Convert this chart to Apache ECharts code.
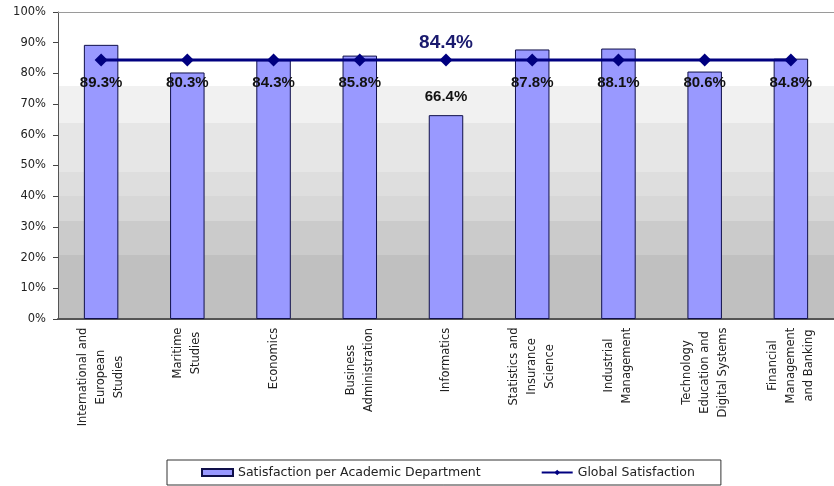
<!DOCTYPE html>
<html>
<head>
<meta charset="utf-8">
<script src="https://cdn.jsdelivr.net/npm/echarts@6/dist/echarts.min.js"></script>
<style>
  html, body { margin: 0; padding: 0; background: #ffffff; }
  #chart { width: 834px; height: 486px; }
</style>
</head>
<body>
<div id="chart"></div>
<script>
// Academic departments (line breaks as shown under the axis)
const departments = [
  'International and\nEuropean\nStudies',
  'Maritime\nStudies',
  'Economics',
  'Business\nAdministration',
  'Informatics',
  'Statistics and\nInsurance\nScience',
  'Industrial\nManagement',
  'Technology\nEducation and\nDigital Systems',
  'Financial\nManagement\nand Banking'
];

// Satisfaction per academic department (%)
const deptSatisfaction = [89.3, 80.3, 84.3, 85.8, 66.4, 87.8, 88.1, 80.6, 84.8];

// Global satisfaction (%) repeated at every department
const globalSatisfaction = [84.4, 84.4, 84.4, 84.4, 84.4, 84.4, 84.4, 84.4, 84.4];

// Index of the point that carries the global value label
const globalLabelIndex = 4;

const seriesNames = ['Satisfaction per Academic Department', 'Global Satisfaction'];

const FONT = 'DejaVu Sans';
const AXIS_FONT_SIZE = 11.5;

// Measure each category's longest line so its lines can be centred in a box
const measureCtx = document.createElement('canvas').getContext('2d');
measureCtx.font = AXIS_FONT_SIZE + 'px "' + FONT + '"';
const rich = {};
departments.forEach(function (name, i) {
  const w = Math.max.apply(null, name.split('\n').map(function (l) {
    return measureCtx.measureText(l).width;
  }));
  rich['c' + i] = {
    width: Math.ceil(w) + 1,
    align: 'center',
    lineHeight: 18,
    fontFamily: FONT,
    fontSize: AXIS_FONT_SIZE,
    color: '#222'
  };
});

const chart = echarts.init(document.getElementById('chart'), null, { renderer: 'canvas' });

// Stepped grey background of the plot area
const plotBackground = new echarts.graphic.LinearGradient(0, 0, 0, 1, [
  { offset: 0.00, color: '#ffffff' },
  { offset: 0.24, color: '#ffffff' },
  { offset: 0.24, color: '#f1f1f1' },
  { offset: 0.36, color: '#f1f1f1' },
  { offset: 0.36, color: '#e6e6e6' },
  { offset: 0.52, color: '#e6e6e6' },
  { offset: 0.52, color: '#dedede' },
  { offset: 0.60, color: '#dedede' },
  { offset: 0.60, color: '#d7d7d7' },
  { offset: 0.68, color: '#d7d7d7' },
  { offset: 0.68, color: '#cbcbcb' },
  { offset: 0.79, color: '#cbcbcb' },
  { offset: 0.79, color: '#c0c0c0' },
  { offset: 1.00, color: '#c0c0c0' }
]);

const barLabel = {
  show: true,
  formatter: function (p) { return p.value.toFixed(1) + '%'; },
  fontFamily: 'Liberation Sans',
  fontWeight: 'bold',
  fontSize: 15,
  color: '#111',
  align: 'center',
  verticalAlign: 'middle'
};

function buildOption(barData) {
  return {
    animation: false,
    backgroundColor: '#ffffff',
    grid: {
      left: 58, right: -12, top: 12, bottom: 167,
      show: true,
      backgroundColor: plotBackground,
      borderWidth: 0
    },
    legend: {
      bottom: 1,
      left: 167,
      data: [{ name: seriesNames[0], icon: 'rect' }, { name: seriesNames[1] }],
      itemWidth: 31,
      itemHeight: 7,
      itemGap: 60,
      padding: [6, 26, 6, 34],
      borderColor: '#333',
      borderWidth: 1,
      borderRadius: 0,
      backgroundColor: '#ffffff',
      textStyle: { fontFamily: FONT, fontSize: 12.5, color: '#222' }
    },
    xAxis: [{
      type: 'category',
      data: departments,
      position: 'bottom',
      axisLine: { lineStyle: { color: '#555', width: 2 } },
      axisTick: { inside: true, length: 4, lineStyle: { color: '#333' } },
      axisLabel: {
        rotate: 90,
        margin: 8,
        interval: 0,
        formatter: function (value, i) {
          return value.split('\n').map(function (l) { return '{c' + i + '|' + l + '}'; }).join('\n');
        },
        rich: rich
      },
      splitLine: { show: false }
    }, {
      type: 'category',
      data: departments,
      position: 'top',
      axisLine: { lineStyle: { color: '#9a9a9a', width: 1 } },
      axisTick: { show: false },
      axisLabel: { show: false },
      splitLine: { show: false }
    }],
    yAxis: {
      type: 'value',
      min: 0,
      max: 100,
      interval: 10,
      axisLine: { show: true, lineStyle: { color: '#555', width: 1 } },
      axisTick: { show: true, length: 5, lineStyle: { color: '#444' } },
      axisLabel: {
        formatter: '{value}%',
        margin: 12,
        fontFamily: FONT,
        fontSize: AXIS_FONT_SIZE,
        color: '#222'
      },
      splitLine: { show: false }
    },
    series: [{
      name: seriesNames[0],
      type: 'bar',
      data: barData,
      barWidth: '40%',
      itemStyle: { color: '#9999ff', borderColor: '#10104a', borderWidth: 1 },
      label: barLabel,
      z: 2
    }, {
      name: seriesNames[1],
      type: 'line',
      data: globalSatisfaction.map(function (v, i) {
        return i === globalLabelIndex ? { value: v, label: { show: true } } : v;
      }),
      symbol: 'diamond',
      symbolSize: 13,
      lineStyle: { color: '#000080', width: 3 },
      itemStyle: { color: '#000080' },
      label: {
        show: false,
        position: 'top',
        distance: 1,
        formatter: function (p) { return p.value.toFixed(1) + '%'; },
        fontFamily: 'Liberation Sans',
        fontWeight: 'bold',
        fontSize: 19,
        color: '#1a1a6e'
      },
      z: 3
    }]
  };
}

// First pass: draw bars, then place value labels using the axis scale
chart.setOption(buildOption(deptSatisfaction.slice()));

const barData = deptSatisfaction.map(function (v) {
  // value labels sit a little above short bars, and at a common band for tall ones
  const level = Math.min(v + 6, 77);
  const dy = chart.convertToPixel({ yAxisIndex: 0 }, level) - chart.convertToPixel({ yAxisIndex: 0 }, v);
  return { value: v, label: { position: ['50%', dy] } };
});
chart.setOption(buildOption(barData));
</script>
</body>
</html>
